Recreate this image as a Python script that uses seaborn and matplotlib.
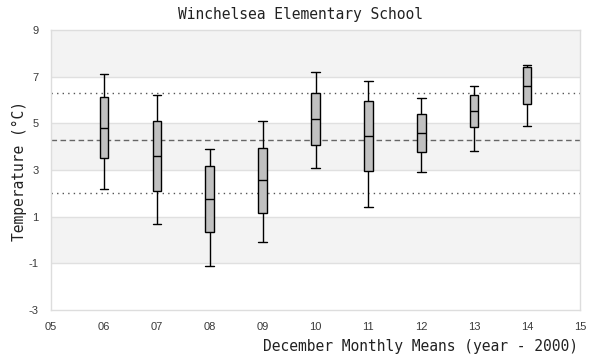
import matplotlib
matplotlib.use("Agg")
import matplotlib.pyplot as plt
import seaborn as sns
import pandas as pd

# Data (year - 2000)
years = [6, 7, 8, 9, 10, 11, 12, 13, 14]
whisker_low = [2.20, 0.68, -1.13, -0.10, 3.07, 1.40, 2.90, 3.80, 4.87]
q1 = [3.50, 2.09, 0.33, 1.14, 4.06, 2.94, 3.76, 4.83, 5.82]
median = [4.80, 3.60, 1.74, 2.57, 5.19, 4.46, 4.57, 5.51, 6.59]
q3 = [6.12, 5.09, 3.17, 3.93, 6.29, 5.96, 5.39, 6.20, 7.40]
whisker_high = [7.10, 6.20, 3.89, 5.09, 7.20, 6.81, 6.07, 6.59, 7.49]

overall_mean = 4.27
upper_ref = 6.30
lower_ref = 2.00

x_ticks = [5, 6, 7, 8, 9, 10, 11, 12, 13, 14, 15]
x_tick_labels = ["05", "06", "07", "08", "09", "10", "11", "12", "13", "14", "15"]
y_ticks = [-3, -1, 1, 3, 5, 7, 9]

rows = []
for i, yr in enumerate(years):
    for v in (whisker_low[i], q1[i], median[i], q3[i], whisker_high[i]):
        rows.append({"year": yr, "temp": v})
df = pd.DataFrame(rows)

sns.set_style("white")
plt.rcParams["axes.unicode_minus"] = False
fig = plt.figure(figsize=(6, 3.6), dpi=100)
ax = fig.add_axes([51 / 600, 1 - 310 / 360, (580 - 51) / 600, 280 / 360])

# alternating bands
for lo in (7, 3, -1):
    ax.axhspan(lo, lo + 2, color="#f3f3f3", zorder=0, lw=0)
for t in y_ticks[1:-1]:
    ax.axhline(t, color="#e0e0e0", lw=1.0, zorder=0.5)

ax.axhline(upper_ref, color="#555555", lw=1.0, ls=(0, (1, 3)), zorder=1)
ax.axhline(lower_ref, color="#555555", lw=1.0, ls=(0, (1, 3)), zorder=1)
ax.axhline(overall_mean, color="#666666", lw=1.0, ls=(0, (4, 2.5)), zorder=1)

sns.boxplot(data=df, x="year", y="temp", native_scale=True, whis=(0, 100),
            width=0.16, color="#c0c0c0", linecolor="black", linewidth=1.0,
            saturation=1, ax=ax, zorder=3)

# make caps the width of the boxes
for line in ax.lines:
    xd = line.get_xdata()
    yd = line.get_ydata()
    if len(xd) == 2 and len(yd) == 2 and yd[0] == yd[1] and 0 < abs(xd[1] - xd[0]) < 0.5:
        c = (xd[0] + xd[1]) / 2
        line.set_xdata([c - 0.08, c + 0.08])

ax.set_xlim(5, 15)
ax.set_ylim(-3, 9)
ax.set_xticks(x_ticks)
ax.set_xticklabels(x_tick_labels)
ax.set_yticks(y_ticks)
ax.tick_params(axis="both", length=0, labelsize=8, labelcolor="#3a3a3a")
ax.tick_params(axis="y", pad=9)
ax.tick_params(axis="x", pad=8.5)
for lab in ax.get_xticklabels() + ax.get_yticklabels():
    lab.set_family(["Liberation Sans", "DejaVu Sans"])
for s in ax.spines.values():
    s.set_color("#dddddd")
    s.set_linewidth(1.0)
ax.set_xlabel("")
ax.set_ylabel("")

mono = ["DejaVu Sans Mono"]
fig.text(0.5, 1 - 14 / 360, "Winchelsea Elementary School", ha="center", va="center",
         family=mono, fontsize=10.5, color="#222222")
fig.text(578 / 600, 1 - 347 / 360, "December Monthly Means (year - 2000)", ha="right",
         va="center", family=mono, fontsize=10.5, color="#222222")
fig.text(19 / 600, 1 - 171 / 360, "Temperature (°C)", ha="center", va="center",
         rotation=90, family=mono, fontsize=10.5, color="#222222")

fig.savefig("out.png", dpi=100)
